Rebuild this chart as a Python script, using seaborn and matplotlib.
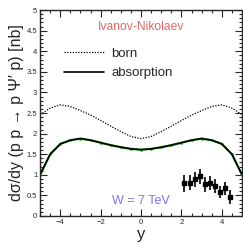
import numpy as np
import pandas as pd
import matplotlib
matplotlib.use('Agg')
import matplotlib.pyplot as plt
from matplotlib.ticker import MultipleLocator, FormatStrFormatter
import seaborn as sns

# rapidity grid and model curves
y_grid = [-5.0, -4.5, -4.0, -3.5, -3.0, -2.5, -2.0, -1.5, -1.0, -0.5, 0.0,
          0.5, 1.0, 1.5, 2.0, 2.5, 3.0, 3.5, 4.0, 4.5, 5.0]
born = [2.46, 2.62, 2.70, 2.66, 2.56, 2.45, 2.32, 2.18, 2.05, 1.93, 1.88,
        1.93, 2.05, 2.18, 2.32, 2.45, 2.56, 2.66, 2.70, 2.62, 2.46]
absorption = [1.00, 1.50, 1.75, 1.84, 1.88, 1.84, 1.78, 1.72, 1.67, 1.63, 1.61,
              1.63, 1.67, 1.72, 1.78, 1.84, 1.88, 1.84, 1.75, 1.50, 1.00]

# LHCb-like data points
data_y = [2.12, 2.4, 2.65, 2.9, 3.15, 3.4, 3.65, 3.9, 4.15, 4.4]
data_val = [0.79, 0.81, 0.89, 0.96, 0.77, 0.81, 0.73, 0.59, 0.67, 0.47]
data_err = [0.20, 0.19, 0.19, 0.19, 0.18, 0.17, 0.16, 0.15, 0.16, 0.17]

curves = pd.DataFrame({'y': y_grid, 'born': born, 'absorption': absorption})
points = pd.DataFrame({'y': data_y, 'val': data_val, 'err': data_err})

sns.set_style('ticks')
plt.rcParams['font.family'] = ['Liberation Sans', 'DejaVu Sans']

fig = plt.figure(figsize=(2.43, 2.46), dpi=100)
ax = fig.add_axes([0.165, 0.122, 0.831, 0.837])

# green coarse curve underneath the absorption line
sns.lineplot(data=curves, x='y', y='absorption', ax=ax, color='#22aa22',
             lw=1.6, marker='o', markersize=2, markeredgewidth=0)
sns.lineplot(data=curves, x='y', y='born', ax=ax, color='black', lw=0.9,
             linestyle=(0, (1, 1.2)), label='born')
sns.lineplot(data=curves, x='y', y='absorption', ax=ax, color='black', lw=1.2,
             label='absorption')

ax.errorbar(points['y'], points['val'], yerr=points['err'], fmt='s',
            color='black', ms=3.5, lw=1.2, capsize=0)

ax.set_xlim(-5, 5)
ax.set_ylim(0, 5)
ax.xaxis.set_major_locator(MultipleLocator(2))
ax.xaxis.set_minor_locator(MultipleLocator(0.5))
ax.yaxis.set_major_locator(MultipleLocator(0.5))
ax.yaxis.set_minor_locator(MultipleLocator(0.1))
ax.yaxis.set_major_formatter(FormatStrFormatter('%g'))
ax.tick_params(which='both', direction='in', top=True, right=True,
               labelsize=5.5, pad=2, width=0.8)
ax.tick_params(which='major', length=5)
ax.tick_params(which='minor', length=2.5)
for s in ax.spines.values():
    s.set_linewidth(1.0)

ax.set_xlabel('y', fontsize=12, labelpad=1)
ax.set_ylabel("dσ/dy (p p → p Ψ′ p) [nb]", fontsize=11.5, labelpad=2)

ax.legend(loc='upper left', bbox_to_anchor=(0.06, 0.875), frameon=False,
          fontsize=9.5, handlelength=3.0, labelspacing=0.55, handletextpad=0.6)

ax.text(0, 4.6, 'Ivanov-Nikolaev', color='#d96a6a', fontsize=8.7,
        ha='center', va='center')
ax.text(0, 0.36, 'W = 7 TeV', color='#7777e6', fontsize=9,
        ha='center', va='center')

fig.savefig('out.png', dpi=100)
